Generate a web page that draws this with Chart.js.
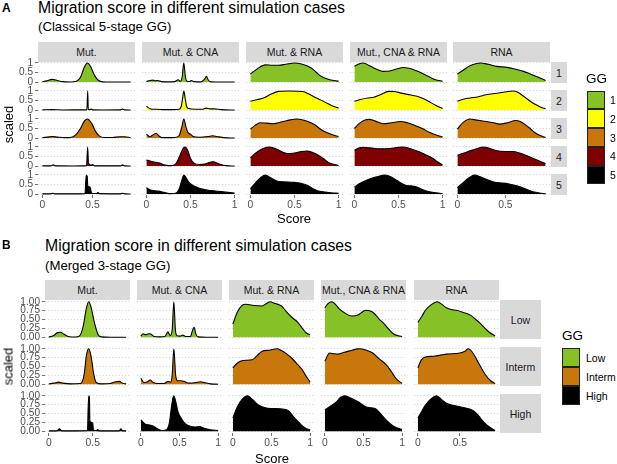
<!DOCTYPE html>
<html>
<head>
<meta charset="utf-8">
<script src="https://cdn.jsdelivr.net/npm/chart.js"></script>
<style>
  body { margin: 0; background: #fff; width: 617px; height: 464px; position: relative; overflow: hidden;
         font-family: "Liberation Sans", Arial, sans-serif; }
  .t { position: absolute; white-space: nowrap; line-height: 1; color: #000; }
  .strip { position: absolute; background: #d9d9d9; color: #1a1a1a; font-size: 10.5px;
           display: flex; align-items: center; justify-content: center; white-space: nowrap; }
  .key { position: absolute; box-sizing: border-box; border: 1px solid #222; }
  canvas { position: absolute; }
</style>
</head>
<body>
<script>
// facet labels
const colNames = ["Mut.", "Mut. & CNA", "Mut. & RNA", "Mut., CNA & RNA", "RNA"];
const rowNamesA = ["1", "2", "3", "4", "5"];
const rowNamesB = ["Low", "Interm", "High"];
const fillA = ["#86c226", "#ffff00", "#c8770a", "#7f0000", "#000000"];
const fillB = ["#86c226", "#c8770a", "#000000"];
const xTickVals = [0, 0.5, 1];
const yTicksA = [0, 0.5, 1];
const yTicksB = [0, 0.25, 0.5, 0.75, 1];

// density curves, [score, scaled]
// --- A: Mut.
const a_mut_1 = [[0,0.02],[0.04,0.06],[0.1,0.14],[0.15,0.08],[0.2,0.02],[0.28,0.005],[0.34,0.04],[0.38,0.25],[0.42,0.8],[0.45,1.0],[0.48,0.82],[0.52,0.35],[0.56,0.08],[0.6,0.01],[0.68,0],[0.88,0]];
const a_mut_2 = [[0,0.01],[0.1,0.02],[0.2,0.005],[0.43,0.01],[0.444,0.02],[0.452,1.0],[0.458,0.03],[0.47,0.02],[0.49,0.05],[0.5,0.01],[0.6,0.005],[0.78,0.01],[0.8,0.05],[0.82,0.01],[0.88,0]];
const a_mut_3 = [[0,0.02],[0.05,0.05],[0.1,0.08],[0.15,0.05],[0.22,0.02],[0.28,0.03],[0.33,0.15],[0.38,0.5],[0.42,0.9],[0.45,1.0],[0.49,0.78],[0.53,0.35],[0.57,0.1],[0.62,0.03],[0.7,0.03],[0.77,0.07],[0.82,0.07],[0.88,0.02]];
const a_mut_4 = [[0,0.01],[0.08,0.01],[0.11,0.06],[0.13,0.01],[0.3,0.005],[0.44,0.02],[0.452,1.0],[0.46,0.05],[0.47,0.1],[0.48,0.03],[0.5,0.08],[0.52,0.01],[0.6,0.01],[0.78,0.01],[0.8,0.06],[0.82,0.01],[0.88,0]];
const a_mut_5 = [[0,0.01],[0.08,0.01],[0.1,0.04],[0.12,0.01],[0.3,0.01],[0.425,0.02],[0.432,0.6],[0.438,1.0],[0.448,0.9],[0.452,0.45],[0.47,0.38],[0.48,0.3],[0.488,0.08],[0.5,0.03],[0.54,0.03],[0.555,0.08],[0.57,0.02],[0.78,0.01],[0.8,0.04],[0.82,0.01],[0.88,0]];
// --- A: Mut. & CNA
const a_cna_1 = [[0,0.03],[0.04,0.08],[0.075,0.1],[0.1,0.07],[0.13,0.08],[0.17,0.02],[0.25,0.01],[0.32,0.02],[0.36,0.12],[0.385,0.04],[0.405,0.25],[0.424,1.0],[0.443,0.25],[0.46,0.04],[0.49,0.03],[0.51,0.08],[0.54,0.02],[0.62,0.01],[0.66,0.15],[0.68,0.3],[0.7,0.12],[0.73,0.01],[0.85,0],[1,0]];
const a_cna_2 = [[0,0.2],[0.03,0.1],[0.07,0.04],[0.12,0.04],[0.2,0.02],[0.3,0.02],[0.37,0.04],[0.395,0.2],[0.41,0.6],[0.424,1.0],[0.44,0.6],[0.455,0.2],[0.48,0.08],[0.55,0.04],[0.63,0.04],[0.68,0.1],[0.72,0.06],[0.77,0.06],[0.85,0.02],[1,0]];
const a_cna_3 = [[0,0.2],[0.04,0.07],[0.08,0.18],[0.11,0.25],[0.14,0.12],[0.17,0.03],[0.25,0.02],[0.32,0.03],[0.37,0.12],[0.4,0.55],[0.424,1.0],[0.45,0.55],[0.475,0.27],[0.5,0.2],[0.53,0.08],[0.6,0.04],[0.7,0.08],[0.75,0.12],[0.8,0.08],[0.88,0.02],[1,0]];
const a_cna_4 = [[0,0.32],[0.05,0.25],[0.1,0.2],[0.15,0.16],[0.2,0.06],[0.25,0.02],[0.3,0.03],[0.34,0.15],[0.38,0.55],[0.42,0.95],[0.44,1.0],[0.47,0.8],[0.5,0.4],[0.54,0.15],[0.6,0.08],[0.66,0.1],[0.72,0.2],[0.76,0.22],[0.82,0.12],[0.9,0.02],[1,0]];
const a_cna_5 = [[0,0.33],[0.04,0.22],[0.1,0.17],[0.17,0.12],[0.22,0.06],[0.27,0.02],[0.33,0.04],[0.37,0.25],[0.4,0.7],[0.425,1.0],[0.45,0.85],[0.48,0.62],[0.52,0.48],[0.56,0.38],[0.62,0.27],[0.7,0.2],[0.8,0.15],[0.9,0.1],[1,0.05]];
// --- A: Mut. & RNA
const a_mr_1 = [[0,0.42],[0.08,0.7],[0.17,0.9],[0.25,0.88],[0.32,0.88],[0.4,0.93],[0.5,1.0],[0.58,0.95],[0.69,0.74],[0.75,0.5],[0.8,0.3],[0.9,0.12],[1,0.05]];
const a_mr_2 = [[0,0.46],[0.08,0.55],[0.15,0.63],[0.22,0.8],[0.32,0.98],[0.45,1.0],[0.59,0.97],[0.66,0.85],[0.72,0.7],[0.8,0.52],[0.87,0.35],[0.94,0.2],[1,0.1]];
const a_mr_3 = [[0,0.47],[0.05,0.65],[0.11,0.8],[0.18,0.78],[0.26,0.75],[0.36,0.85],[0.45,0.95],[0.53,1.0],[0.62,0.92],[0.72,0.72],[0.8,0.45],[0.86,0.3],[0.93,0.17],[1,0.08]];
const a_mr_4 = [[0,0.43],[0.08,0.75],[0.15,0.93],[0.22,1.0],[0.3,0.88],[0.37,0.72],[0.42,0.65],[0.5,0.68],[0.58,0.76],[0.64,0.78],[0.7,0.72],[0.77,0.57],[0.83,0.38],[0.88,0.2],[0.94,0.09],[1,0.03]];
const a_mr_5 = [[0,0.28],[0.06,0.6],[0.12,0.88],[0.17,1.0],[0.23,0.85],[0.3,0.68],[0.37,0.64],[0.43,0.63],[0.5,0.61],[0.56,0.58],[0.65,0.45],[0.7,0.3],[0.76,0.17],[0.85,0.1],[0.92,0.06],[1,0.04]];
// --- A: Mut., CNA & RNA
const a_mcr_1 = [[0,0.82],[0.05,0.95],[0.1,1.0],[0.16,0.88],[0.22,0.74],[0.28,0.62],[0.33,0.56],[0.4,0.58],[0.48,0.68],[0.55,0.76],[0.62,0.72],[0.68,0.63],[0.75,0.5],[0.81,0.36],[0.87,0.22],[0.92,0.12],[1,0.04]];
const a_mcr_2 = [[0,0.46],[0.07,0.55],[0.15,0.63],[0.22,0.67],[0.3,0.82],[0.39,0.98],[0.45,0.97],[0.52,0.9],[0.6,0.82],[0.71,0.72],[0.78,0.6],[0.84,0.46],[0.92,0.25],[1,0.08]];
const a_mcr_3 = [[0,0.5],[0.06,0.78],[0.12,0.95],[0.17,0.98],[0.23,0.9],[0.33,0.75],[0.42,0.8],[0.52,0.87],[0.6,0.8],[0.68,0.67],[0.77,0.5],[0.85,0.3],[0.92,0.17],[1,0.06]];
const a_mcr_4 = [[0,0.82],[0.05,0.95],[0.1,0.98],[0.18,0.95],[0.29,0.9],[0.4,0.92],[0.48,0.97],[0.55,1.0],[0.63,0.92],[0.74,0.73],[0.82,0.57],[0.89,0.4],[0.95,0.2],[1,0.07]];
const a_mcr_5 = [[0,0.37],[0.07,0.58],[0.15,0.75],[0.22,0.86],[0.29,0.95],[0.34,1.0],[0.4,0.93],[0.48,0.72],[0.54,0.55],[0.59,0.45],[0.64,0.43],[0.69,0.4],[0.75,0.28],[0.81,0.17],[0.9,0.08],[1,0.03]];
// --- A: RNA
const a_rna_1 = [[0,0.42],[0.06,0.62],[0.13,0.85],[0.19,0.96],[0.24,1.0],[0.32,0.93],[0.41,0.82],[0.52,0.77],[0.6,0.68],[0.69,0.56],[0.76,0.42],[0.84,0.26],[0.92,0.08]];
const a_rna_2 = [[0,0.46],[0.06,0.57],[0.13,0.63],[0.22,0.7],[0.3,0.8],[0.39,0.87],[0.48,0.93],[0.58,1.0],[0.63,0.93],[0.69,0.72],[0.75,0.5],[0.81,0.3],[0.87,0.15],[0.92,0.07]];
const a_rna_3 = [[0,0.47],[0.06,0.82],[0.13,1.0],[0.2,0.94],[0.3,0.87],[0.38,0.8],[0.44,0.73],[0.52,0.8],[0.61,0.92],[0.65,0.88],[0.7,0.73],[0.76,0.5],[0.81,0.28],[0.87,0.12],[0.92,0.03]];
const a_rna_4 = [[0,0.57],[0.07,0.68],[0.13,0.8],[0.2,0.9],[0.27,1.0],[0.34,0.92],[0.41,0.8],[0.5,0.76],[0.58,0.76],[0.65,0.68],[0.72,0.55],[0.8,0.38],[0.86,0.25],[0.92,0.13]];
const a_rna_5 = [[0,0.33],[0.06,0.6],[0.12,0.85],[0.18,1.0],[0.24,0.9],[0.3,0.77],[0.39,0.62],[0.48,0.57],[0.56,0.5],[0.61,0.44],[0.68,0.33],[0.75,0.19],[0.83,0.08],[0.92,0.01]];
// --- B: Mut.
const b_mut_1 = [[0,0.01],[0.05,0.04],[0.1,0.13],[0.13,0.14],[0.17,0.09],[0.22,0.02],[0.3,0.005],[0.35,0.04],[0.39,0.3],[0.43,0.85],[0.455,1.0],[0.48,0.85],[0.52,0.4],[0.56,0.08],[0.6,0.01],[0.7,0],[0.88,0]];
const b_mut_2 = [[0,0.01],[0.06,0.03],[0.11,0.06],[0.16,0.03],[0.25,0.01],[0.36,0.02],[0.4,0.25],[0.43,0.85],[0.455,1.0],[0.48,0.8],[0.51,0.3],[0.54,0.05],[0.6,0.01],[0.7,0.02],[0.76,0.07],[0.8,0.08],[0.84,0.03],[0.88,0.01]];
const b_mut_3 = [[0,0.01],[0.09,0.01],[0.12,0.07],[0.15,0.01],[0.3,0.01],[0.44,0.02],[0.448,0.7],[0.455,1.0],[0.462,0.95],[0.467,0.3],[0.48,0.25],[0.5,0.22],[0.508,0.03],[0.54,0.02],[0.555,0.05],[0.57,0.01],[0.8,0.01],[0.82,0.07],[0.84,0.01],[0.88,0.01]];
// --- B: Mut. & CNA
const b_cna_1 = [[0,0.03],[0.03,0.1],[0.06,0.07],[0.1,0.1],[0.13,0.09],[0.17,0.02],[0.25,0.01],[0.31,0.02],[0.35,0.15],[0.38,0.05],[0.405,0.2],[0.427,1.0],[0.447,0.2],[0.47,0.04],[0.51,0.03],[0.54,0.06],[0.58,0.02],[0.64,0.02],[0.67,0.2],[0.69,0.28],[0.71,0.1],[0.74,0.01],[0.85,0],[1,0]];
const b_cna_2 = [[0,0.17],[0.04,0.05],[0.08,0.06],[0.12,0.12],[0.16,0.05],[0.22,0.02],[0.3,0.02],[0.35,0.08],[0.385,0.06],[0.405,0.25],[0.427,1.0],[0.45,0.25],[0.475,0.1],[0.52,0.1],[0.56,0.08],[0.62,0.03],[0.7,0.04],[0.77,0.07],[0.82,0.05],[0.9,0.01],[1,0]];
const b_cna_3 = [[0,0.32],[0.03,0.25],[0.06,0.2],[0.1,0.18],[0.14,0.16],[0.18,0.12],[0.23,0.05],[0.28,0.02],[0.33,0.04],[0.37,0.25],[0.4,0.75],[0.425,1.0],[0.45,0.85],[0.48,0.55],[0.52,0.37],[0.57,0.22],[0.63,0.15],[0.7,0.12],[0.76,0.13],[0.82,0.08],[0.9,0.04],[1,0.02]];
// --- B: Mut. & RNA
const b_mr_1 = [[0,0.37],[0.06,0.72],[0.12,0.9],[0.17,0.93],[0.25,0.9],[0.38,0.88],[0.44,0.96],[0.48,1.0],[0.55,0.95],[0.63,0.88],[0.7,0.7],[0.77,0.55],[0.84,0.42],[0.9,0.25],[0.95,0.12],[1,0.07]];
const b_mr_2 = [[0,0.46],[0.06,0.6],[0.13,0.67],[0.25,0.69],[0.32,0.82],[0.38,0.93],[0.47,0.96],[0.57,1.0],[0.63,0.95],[0.7,0.85],[0.76,0.74],[0.84,0.55],[0.9,0.4],[0.95,0.22],[1,0.06]];
const b_mr_3 = [[0,0.37],[0.06,0.7],[0.12,0.9],[0.19,1.0],[0.26,0.88],[0.33,0.74],[0.42,0.66],[0.52,0.64],[0.62,0.63],[0.72,0.58],[0.78,0.42],[0.84,0.28],[0.9,0.15],[0.95,0.08],[1,0.03]];
// --- B: Mut., CNA & RNA
const b_mcr_1 = [[0,0.83],[0.04,0.95],[0.09,1.0],[0.14,0.92],[0.19,0.79],[0.26,0.68],[0.34,0.6],[0.43,0.63],[0.49,0.72],[0.53,0.76],[0.59,0.74],[0.64,0.67],[0.7,0.52],[0.77,0.37],[0.83,0.22],[0.89,0.09],[0.95,0.04],[1,0.02]];
const b_mcr_2 = [[0,0.65],[0.06,0.88],[0.12,0.86],[0.17,0.85],[0.25,0.9],[0.32,0.94],[0.4,0.99],[0.45,1.0],[0.52,0.97],[0.62,0.88],[0.7,0.72],[0.79,0.56],[0.86,0.36],[0.91,0.19],[0.96,0.08],[1,0.03]];
const b_mcr_3 = [[0,0.6],[0.08,0.72],[0.15,0.83],[0.2,0.95],[0.26,1.0],[0.34,0.93],[0.43,0.83],[0.53,0.69],[0.6,0.66],[0.66,0.63],[0.72,0.5],[0.77,0.37],[0.83,0.24],[0.89,0.14],[0.95,0.08],[1,0.05]];
// --- B: RNA
const b_rna_1 = [[0,0.42],[0.05,0.6],[0.09,0.76],[0.16,0.92],[0.23,1.0],[0.29,0.92],[0.34,0.83],[0.4,0.78],[0.46,0.76],[0.54,0.7],[0.62,0.63],[0.68,0.52],[0.73,0.42],[0.8,0.25],[0.85,0.14],[0.92,0.04]];
const b_rna_2 = [[0,0.46],[0.04,0.68],[0.08,0.76],[0.19,0.79],[0.34,0.85],[0.5,0.88],[0.56,0.93],[0.6,1.0],[0.64,0.93],[0.7,0.7],[0.75,0.48],[0.8,0.28],[0.87,0.09],[0.92,0.02]];
const b_rna_3 = [[0,0.37],[0.05,0.58],[0.09,0.74],[0.16,0.92],[0.22,1.0],[0.28,0.9],[0.34,0.79],[0.42,0.73],[0.5,0.69],[0.58,0.65],[0.66,0.58],[0.72,0.45],[0.76,0.32],[0.82,0.18],[0.87,0.09],[0.92,0.02]];

const curvesA = [
  [a_mut_1, a_cna_1, a_mr_1, a_mcr_1, a_rna_1],
  [a_mut_2, a_cna_2, a_mr_2, a_mcr_2, a_rna_2],
  [a_mut_3, a_cna_3, a_mr_3, a_mcr_3, a_rna_3],
  [a_mut_4, a_cna_4, a_mr_4, a_mcr_4, a_rna_4],
  [a_mut_5, a_cna_5, a_mr_5, a_mcr_5, a_rna_5]
];
const curvesB = [
  [b_mut_1, b_cna_1, b_mr_1, b_mcr_1, b_rna_1],
  [b_mut_2, b_cna_2, b_mr_2, b_mcr_2, b_rna_2],
  [b_mut_3, b_cna_3, b_mr_3, b_mcr_3, b_rna_3]
];

// x range of each column (data range + 5%)
const xRange = [[-0.044, 0.924], [-0.05, 1.05], [-0.05, 1.05], [-0.05, 1.05], [-0.046, 0.966]];

const FONT = '"Liberation Sans", Arial, sans-serif';
const PAD = 6;

function addText(txt, left, top, size, extra) {
  const d = document.createElement("div");
  d.className = "t";
  d.textContent = txt;
  d.style.left = left + "px";
  d.style.top = top + "px";
  d.style.fontSize = size + "px";
  if (extra) Object.assign(d.style, extra);
  document.body.appendChild(d);
  return d;
}

function addStrip(txt, left, top, w, h) {
  const d = document.createElement("div");
  d.className = "strip";
  d.textContent = txt;
  Object.assign(d.style, { left: left + "px", top: top + "px", width: w + "px", height: h + "px" });
  document.body.appendChild(d);
}

function makeCell(left, top, w, h, yw, xh, pts, color, xr, yTicks, yFmt) {
  const cv = document.createElement("canvas");
  cv.style.left = (left - yw) + "px";
  cv.style.top = (top - PAD) + "px";
  cv.width = w + yw;
  cv.height = h + PAD + (xh > 0 ? xh : PAD);
  document.body.appendChild(cv);

  new Chart(cv, {
    type: "line",
    data: {
      datasets: [{
        data: pts.map(p => ({ x: p[0], y: p[1] })),
        borderColor: "#000",
        borderWidth: 1.1,
        backgroundColor: color,
        fill: "origin",
        pointRadius: 0,
        cubicInterpolationMode: "monotone"
      }]
    },
    options: {
      responsive: false,
      animation: false,
      events: [],
      layout: { padding: { top: PAD, bottom: xh > 0 ? 0 : PAD, left: 0, right: 0 } },
      plugins: { legend: { display: false }, tooltip: { enabled: false } },
      scales: {
        x: {
          type: "linear",
          min: xr[0],
          max: xr[1],
          afterBuildTicks: s => { s.ticks = xTickVals.filter(v => v >= xr[0] && v <= xr[1]).map(v => ({ value: v })); },
          afterFit: s => { s.height = xh; s.paddingLeft = 0; s.paddingRight = 0; },
          ticks: { display: xh > 0, autoSkip: false, maxRotation: 0, padding: 1, color: "#4d4d4d",
                   font: { family: FONT, size: 10.3 }, callback: v => String(v) },
          grid: { drawOnChartArea: false, drawTicks: xh > 0, tickLength: 3, tickColor: "#555", tickWidth: 0.8 },
          border: { display: false }
        },
        y: {
          min: -0.05,
          max: 1.05,
          afterBuildTicks: s => { s.ticks = yTicks.map(v => ({ value: v })); },
          afterFit: s => { s.width = yw; s.paddingTop = 0; s.paddingBottom = 0; },
          ticks: { display: yw > 0, autoSkip: false, padding: 2, color: "#4d4d4d",
                   font: { family: FONT, size: 10.1 }, callback: v => yFmt(v) },
          grid: { color: "#c4c4c4", lineWidth: 0.8, drawTicks: yw > 0, tickLength: 3,
                  tickColor: "#555", tickWidth: 0.8, tickBorderDash: [] },
          border: { display: false, dash: [1, 2.2] }
        }
      }
    }
  });
}

function drawPanel(cfg) {
  const nR = cfg.rows.length;
  colNames.forEach((name, c) => addStrip(name, cfg.colLeft[c], cfg.stripTop, cfg.colW, cfg.stripH));
  cfg.rows.forEach((name, r) => {
    addStrip(name, cfg.rowStripLeft, cfg.rowTop[r], cfg.rowStripW, cfg.rowH);
    colNames.forEach((_, c) => {
      makeCell(cfg.colLeft[c], cfg.rowTop[r], cfg.colW, cfg.rowH,
        c === 0 ? cfg.yAxisW : 0, r === nR - 1 ? 16 : 0,
        cfg.curves[r][c], cfg.fills[r], xRange[c], cfg.yTicks, cfg.yFmt);
    });
  });
}

// ---------- panel A ----------
addText("A", 2, 1.8, 12, { fontWeight: "bold" });
addText("Migration score in different simulation cases", 38, 0.2, 15.8);
addText("(Classical 5-stage GG)", 38, 20.3, 13.2);
drawPanel({
  rows: rowNamesA, curves: curvesA, fills: fillA,
  colLeft: [38, 142, 246, 350, 453], colW: 97,
  rowTop: [62, 90, 118, 146, 174], rowH: 21,
  stripTop: 42, stripH: 20, rowStripLeft: 551, rowStripW: 16,
  yAxisW: 38, yTicks: yTicksA, yFmt: v => String(v)
});
addText("Score", 244, 211.5, 13, { width: "100px", textAlign: "center" });
addText("scaled", -42, 117.5, 13, { width: "100px", textAlign: "center", transform: "rotate(-90deg)" });
addText("GG", 586, 71.6, 13.5);
fillA.forEach((col, i) => {
  const k = document.createElement("div");
  k.className = "key";
  Object.assign(k.style, { left: "587px", top: (90.5 + i * 18.8) + "px", width: "18px", height: "18.8px", background: col });
  document.body.appendChild(k);
  addText(rowNamesA[i], 610, 95 + i * 18.8, 10.5);
});

// ---------- panel B ----------
addText("B", 2, 239.3, 12, { fontWeight: "bold" });
addText("Migration score in different simulation cases", 45, 237.6, 15.8);
addText("(Merged 3-stage GG)", 45, 259.3, 13.2);
drawPanel({
  rows: rowNamesB, curves: curvesB, fills: fillB,
  colLeft: [45, 137, 229, 321, 414], colW: 85,
  rowTop: [300, 347, 394], rowH: 39,
  stripTop: 280, stripH: 20, rowStripLeft: 500, rowStripW: 41,
  yAxisW: 45, yTicks: yTicksB, yFmt: v => v.toFixed(2)
});
addText("Score", 222, 451.5, 13, { width: "100px", textAlign: "center" });
addText("scaled", -42, 359.5, 13, { width: "100px", textAlign: "center", transform: "rotate(-90deg)" });
addText("GG", 562, 328.6, 13.5);
fillB.forEach((col, i) => {
  const k = document.createElement("div");
  k.className = "key";
  Object.assign(k.style, { left: "562px", top: (348.3 + i * 19) + "px", width: "18px", height: "19px", background: col });
  document.body.appendChild(k);
  addText(rowNamesB[i], 586, 353 + i * 19, 10.5);
});
</script>
</body>
</html>
